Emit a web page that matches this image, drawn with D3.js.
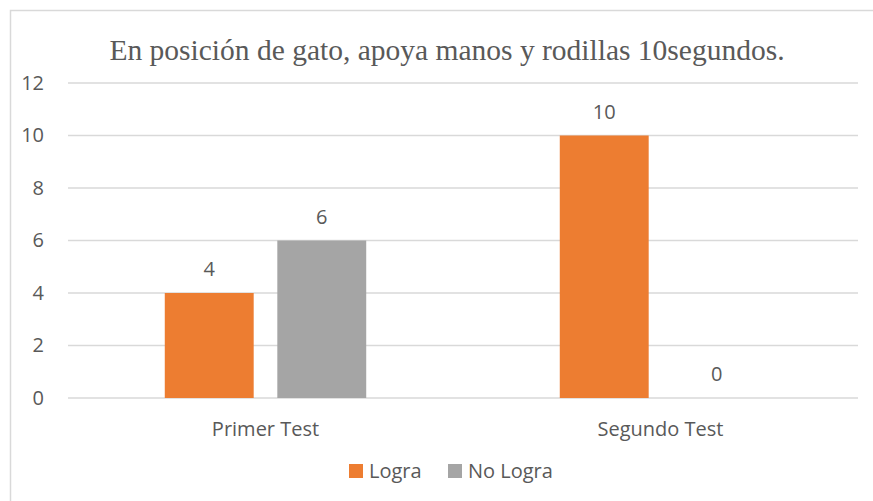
<!DOCTYPE html>
<html>
<head>
<meta charset="utf-8">
<script src="https://cdn.jsdelivr.net/npm/d3@7"></script>
<style>
  body { margin: 0; background: #fff; }
  text { fill: #595959; }
</style>
</head>
<body>
<svg id="chart" width="873" height="501"></svg>
<script>
const title = "En posición de gato, apoya manos y rodillas 10segundos.";
const categories = ["Primer Test", "Segundo Test"];
const seriesNames = ["Logra", "No Logra"];
const logra = [4, 10];
const noLogra = [6, 0];
const yTicks = [0, 2, 4, 6, 8, 10, 12];
const colors = ["#ED7D31", "#A5A5A5"];

const svg = d3.select("#chart"),
    margin = { top: 83, right: 15, bottom: 103, left: 68 },
    width = +svg.attr("width") - margin.left - margin.right,
    height = +svg.attr("height") - margin.top - margin.bottom;

const labelFont = "20px 'Open Sans', sans-serif";

// outer chart border
svg.append("rect")
    .attr("x", 10.5).attr("y", 10.5)
    .attr("width", 900).attr("height", 600)
    .attr("fill", "none")
    .attr("stroke", "#D9D9D9")
    .attr("stroke-width", 1.5);

svg.append("text")
    .attr("x", 447).attr("y", 60)
    .attr("text-anchor", "middle")
    .style("font", "29.5px 'Liberation Serif', 'Times New Roman', serif")
    .text(title);

const g = svg.append("g")
    .attr("transform", `translate(${margin.left},${margin.top})`);

const x0 = d3.scaleBand().domain(categories).range([0, width]).padding(0);
const x1 = d3.scaleBand().domain(seriesNames)
    .range([x0.bandwidth() * 0.245, x0.bandwidth() * 0.755])
    .paddingInner(0.21);
const y = d3.scaleLinear().domain([0, 12]).range([height, 0]);

// gridlines
g.append("g")
    .selectAll("line")
    .data(yTicks)
    .enter()
    .append("line")
    .attr("x1", 0).attr("x2", width)
    .attr("y1", d => y(d)).attr("y2", d => y(d))
    .attr("stroke", "#D9D9D9")
    .attr("stroke-width", 1.3);

const yAxis = g.append("g")
    .call(d3.axisLeft(y).tickValues(yTicks).tickSize(0).tickPadding(24));
yAxis.select(".domain").remove();
yAxis.selectAll("text")
    .style("font", labelFont)
    .attr("fill", "#595959");

const xAxis = g.append("g")
    .attr("transform", `translate(0,${height})`)
    .call(d3.axisBottom(x0).tickSize(0).tickPadding(24));
xAxis.select(".domain").remove();
xAxis.selectAll("text")
    .style("font", labelFont)
    .attr("fill", "#595959");

const rows = categories.map((c, i) => ({
    cat: c,
    values: [{ key: seriesNames[0], v: logra[i] }, { key: seriesNames[1], v: noLogra[i] }]
}));

const groups = g.selectAll(".cat")
    .data(rows)
    .enter()
    .append("g")
    .attr("class", "cat")
    .attr("transform", d => `translate(${x0(d.cat)},0)`);

groups.selectAll("rect")
    .data(d => d.values)
    .enter()
    .append("rect")
    .attr("x", d => x1(d.key))
    .attr("width", x1.bandwidth())
    .attr("y", d => y(d.v))
    .attr("height", d => height - y(d.v))
    .attr("fill", (d, i) => colors[i]);

groups.selectAll(".label")
    .data(d => d.values)
    .enter()
    .append("text")
    .attr("class", "label")
    .attr("x", d => x1(d.key) + x1.bandwidth() / 2)
    .attr("y", d => y(d.v) - 17)
    .attr("text-anchor", "middle")
    .style("font", labelFont)
    .attr("fill", "#404040")
    .text(d => d.v);

// legend
const legend = svg.append("g").attr("transform", "translate(349,464)");
const legendX = [0, 99];
seriesNames.forEach((name, i) => {
    const item = legend.append("g").attr("transform", `translate(${legendX[i]},0)`);
    item.append("rect").attr("width", 14).attr("height", 14).attr("fill", colors[i]);
    item.append("text")
        .attr("x", 20).attr("y", 14)
        .style("font", labelFont)
        .text(name);
});
</script>
</body>
</html>
